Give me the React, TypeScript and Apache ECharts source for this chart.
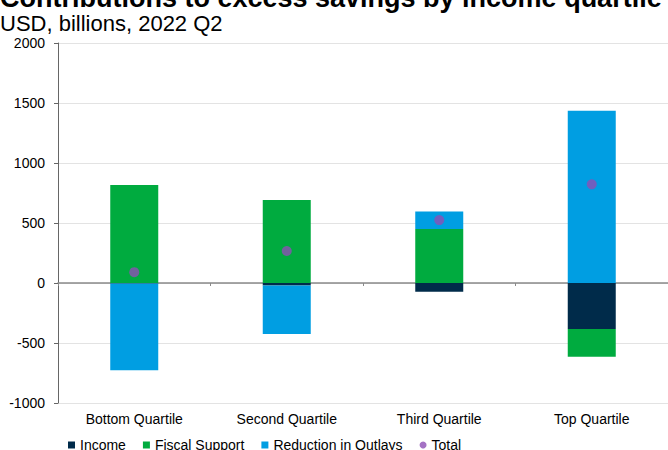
import React, { useEffect, useRef } from "react";
import * as echarts from "echarts";

const categories = ["Bottom Quartile", "Second Quartile", "Third Quartile", "Top Quartile"];
const income = [-5, -20, -72, -383];
const fiscalSupport = [817, 692, 450, -231];
const reductionInOutlays = [-722, -405, 146, 1436];
const total = [90, 267, 524, 822];

const FONT = "'Liberation Sans', Arial, sans-serif";

export default function App() {
  const ref = useRef<HTMLDivElement>(null);
  useEffect(() => {
    if (!ref.current) return;
    const chart = echarts.init(ref.current, null, { renderer: "svg" });
    chart.setOption({
      animation: false,
      backgroundColor: "#ffffff",
      textStyle: { fontFamily: FONT },
      title: [
        {
          text: "Contributions to excess savings by income quartile",
          left: 0,
          top: -16,
          padding: 0,
          textStyle: { fontSize: 27, fontWeight: "bold", color: "#000", fontFamily: FONT },
        },
        {
          text: "USD, billions, 2022 Q2",
          left: 0,
          top: 12,
          padding: 0,
          textStyle: { fontSize: 22, fontWeight: "normal", color: "#000", fontFamily: FONT },
        },
      ],
      legend: {
        left: 68,
        top: 438,
        itemWidth: 7,
        itemHeight: 7,
        itemGap: 17,
        padding: 0,
        textStyle: { fontSize: 14, color: "#000", fontFamily: FONT },
        data: [
          { name: "Income", icon: "rect" },
          { name: "Fiscal Support", icon: "rect" },
          { name: "Reduction in Outlays", icon: "rect" },
          { name: "Total", icon: "circle" },
        ],
      },
      grid: { left: 58, right: 0, top: 43, bottom: 47, containLabel: false },
      xAxis: [
        {
          type: "category",
          data: categories,
          position: "bottom",
          axisLine: { show: false, onZero: false },
          axisTick: { show: false },
          axisLabel: { fontSize: 14, color: "#000", margin: 9, fontFamily: FONT },
        },
        {
          type: "category",
          data: categories,
          position: "bottom",
          axisLine: { show: true, onZero: true, lineStyle: { color: "#8a8a8a", width: 1.5 } },
          axisTick: { show: true, length: 3, lineStyle: { color: "#8a8a8a" } },
          axisLabel: { show: false },
        },
      ],
      yAxis: {
        type: "value",
        min: -1000,
        max: 2000,
        interval: 500,
        axisLine: { show: true, lineStyle: { color: "#666" } },
        axisTick: { show: true, length: 4, lineStyle: { color: "#666" } },
        axisLabel: {
          fontSize: 14,
          color: "#000",
          margin: 13,
          fontFamily: FONT,
          formatter: (v: number) => String(v),
        },
        splitLine: { show: true, lineStyle: { color: "#e3e3e3" } },
      },
      series: [
        {
          name: "Income",
          type: "bar",
          stack: "a",
          barWidth: 48,
          itemStyle: { color: "#002b4a" },
          data: income,
        },
        {
          name: "Fiscal Support",
          type: "bar",
          stack: "a",
          barWidth: 48,
          itemStyle: { color: "#00ab3f" },
          data: fiscalSupport,
        },
        {
          name: "Reduction in Outlays",
          type: "bar",
          stack: "a",
          barWidth: 48,
          itemStyle: { color: "#009ee2" },
          data: reductionInOutlays,
        },
        {
          name: "Total",
          type: "scatter",
          symbol: "circle",
          symbolSize: 10,
          z: 5,
          itemStyle: { color: "#8d4fb5" },
          data: total,
        },
      ],
    });
    return () => chart.dispose();
  }, []);
  return (
    <div
      ref={ref}
      style={{ position: "fixed", left: 0, top: 0, width: 668, height: 450, background: "#fff" }}
    />
  );
}
